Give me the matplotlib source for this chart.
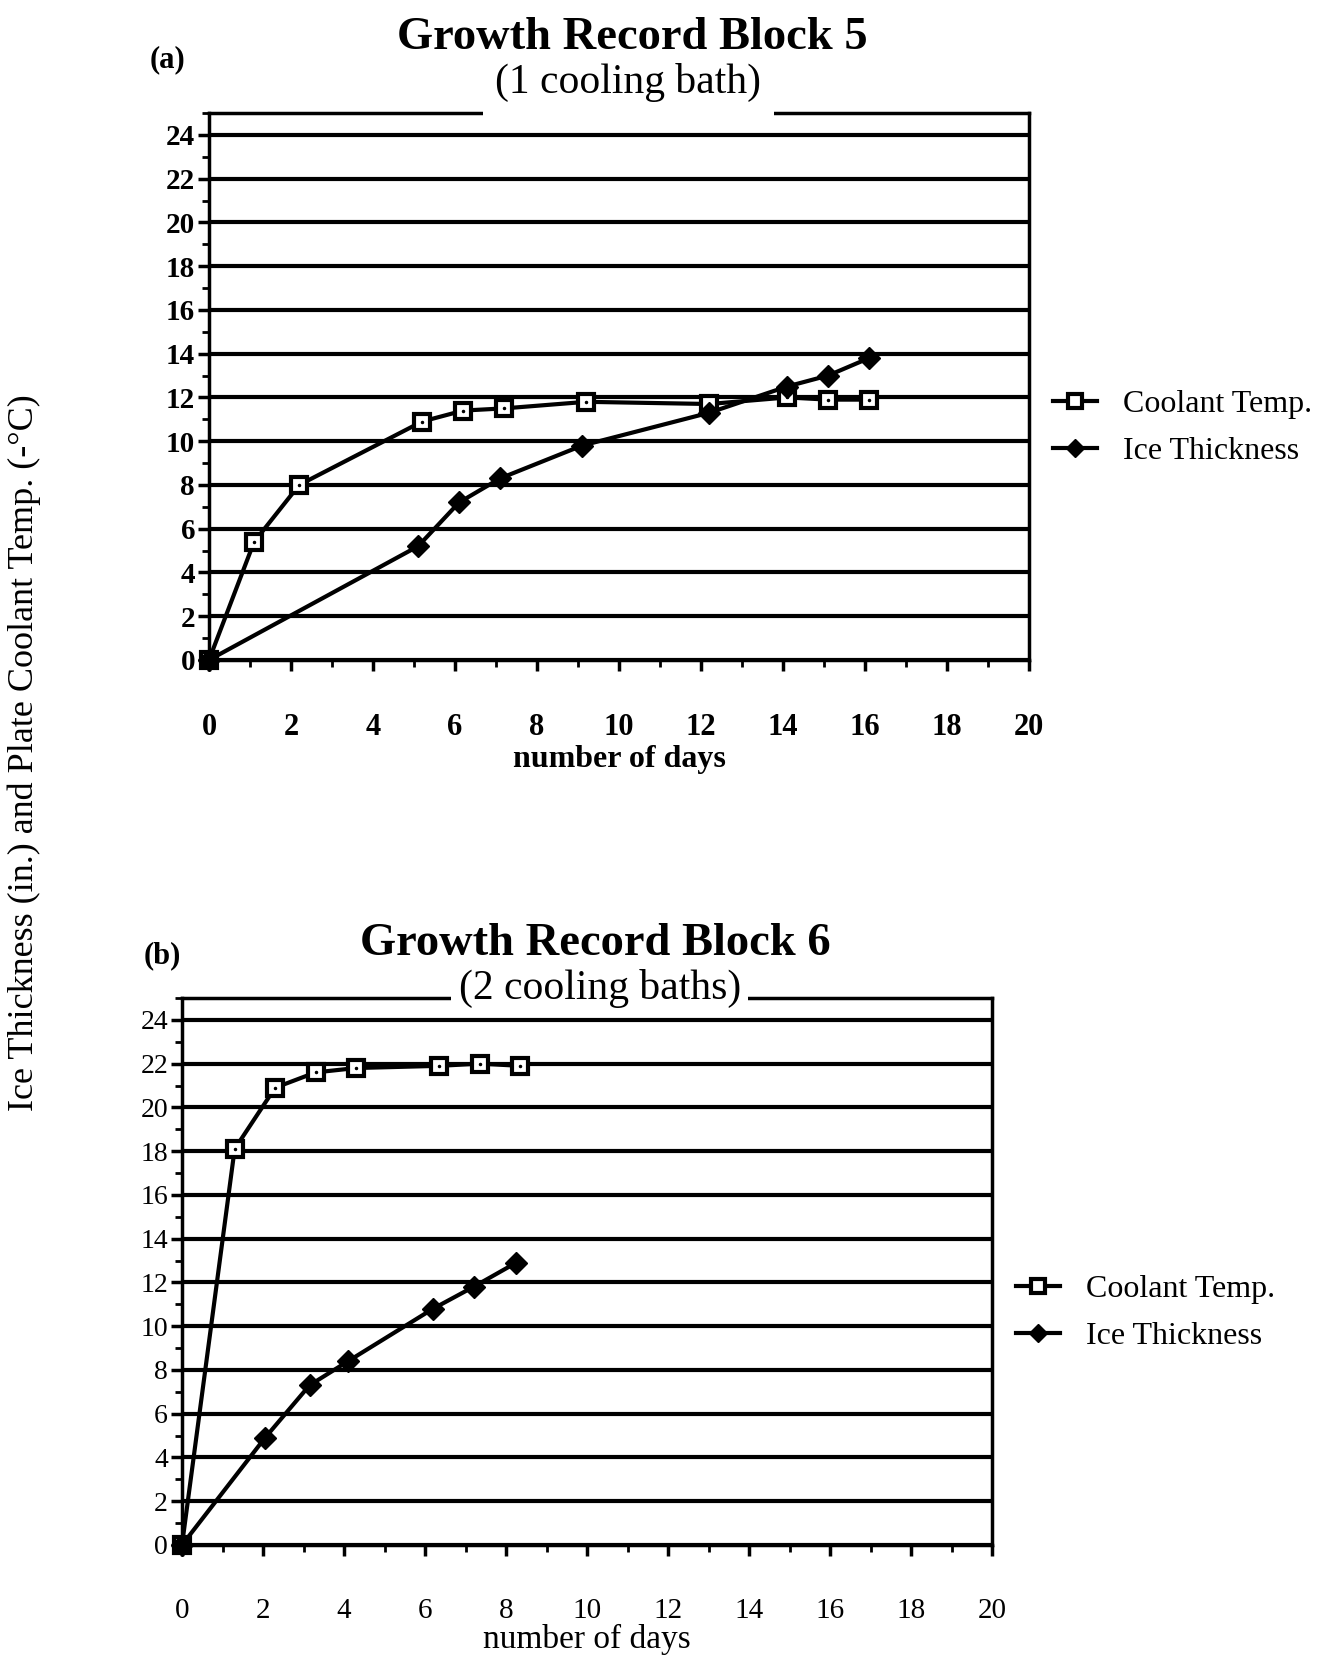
import numpy as np
import matplotlib.pyplot as plt
from matplotlib.patches import Rectangle

W, H = 1332, 1663

# (a) Block 5, one cooling bath
days_a_cool = [0, 1.1, 2.2, 5.2, 6.2, 7.2, 9.2, 12.2, 14.1, 15.1, 16.1]
temp_a = [0, 5.4, 8.0, 10.9, 11.4, 11.5, 11.8, 11.7, 12.0, 11.9, 11.9]
days_a_ice = [0, 5.1, 6.1, 7.1, 9.1, 12.2, 14.1, 15.1, 16.1]
ice_a = [0, 5.2, 7.2, 8.3, 9.8, 11.3, 12.5, 13.0, 13.8]

# (b) Block 6, two cooling baths
days_b_cool = [0, 1.3, 2.3, 3.3, 4.3, 6.35, 7.35, 8.35]
temp_b = [0, 18.1, 20.9, 21.6, 21.8, 21.9, 22.0, 21.9]
days_b_ice = [0, 2.05, 3.15, 4.1, 6.2, 7.2, 8.25]
ice_b = [0, 4.9, 7.3, 8.4, 10.8, 11.8, 12.9]

y_ticks = np.arange(0, 25, 2)
x_ticks = np.arange(0, 21, 2)

plt.rcParams['font.family'] = ['Liberation Serif', 'DejaVu Serif']


def fx(px):
    return px / W


def fy(py):
    return 1 - py / H


def panel(rect, d_cool, t_cool, d_ice, t_ice, bold_ticks, gap):
    ax = fig.add_axes(rect)
    ax.set_xlim(0, 20)
    ax.set_ylim(0, 25)
    for v in y_ticks:
        ax.axhline(v, color='black', lw=3, zorder=1)
    ax.plot(d_cool, t_cool, '-', color='black', lw=3, marker='s', ms=12,
            mfc='white', mec='black', mew=3, zorder=3, clip_on=False, label='Coolant Temp.')
    ax.plot(d_cool, t_cool, '.', color='black', ms=3, zorder=4, clip_on=False)
    ax.plot(d_ice, t_ice, '-', color='black', lw=3, marker='D', ms=11,
            mfc='black', mec='black', zorder=3, clip_on=False, label='Ice Thickness')
    for s in ax.spines.values():
        s.set_linewidth(2.5)
    # white break in the top frame behind the subtitle
    ax.add_patch(Rectangle((gap[0], 0.985), gap[1] - gap[0], 0.03, transform=ax.transAxes,
                           facecolor='white', edgecolor='none', clip_on=False, zorder=5))
    ax.set_xticks(x_ticks)
    ax.set_xticks(np.arange(0, 21, 1), minor=True)
    ax.set_yticks(y_ticks)
    ax.set_yticks(np.arange(0, 26, 1), minor=True)
    ax.tick_params(which='major', length=8, width=2.5, direction='out')
    ax.tick_params(which='minor', length=5, width=2, direction='out')
    ax.tick_params(axis='x', pad=30)
    ax.tick_params(axis='y', pad=2)
    w = 'bold' if bold_ticks else 'normal'
    fs = 22 if bold_ticks else 21
    ax.set_xticklabels([str(v) for v in x_ticks], fontsize=fs, fontweight=w)
    ax.set_yticklabels([str(v) for v in y_ticks], fontsize=fs - 1, fontweight=w)
    return ax


fig = plt.figure(figsize=(W / 100, H / 100), dpi=100)

ax1 = panel([fx(209), fy(660), fx(1029 - 209), (660 - 113) / H],
            days_a_cool, temp_a, days_a_ice, ice_a, True, (0.334, 0.689))
ax2 = panel([fx(182), fy(1545), fx(992 - 182), (1545 - 998) / H],
            days_b_cool, temp_b, days_b_ice, ice_b, False, (0.332, 0.699))

ax1.set_xlabel('number of days', fontsize=23, fontweight='bold', labelpad=2)
ax2.set_xlabel('number of days', fontsize=24, labelpad=0)

fig.text(fx(632), fy(38), 'Growth Record Block 5', fontsize=33.5, fontweight='bold',
         ha='center', va='center')
fig.text(fx(628), fy(82), '(1 cooling bath)', fontsize=30, ha='center', va='center', zorder=10)
fig.text(fx(168), fy(60), '(a)', fontsize=22, fontweight='bold', ha='center', va='center')

fig.text(fx(595), fy(944), 'Growth Record Block 6', fontsize=33.5, fontweight='bold',
         ha='center', va='center')
fig.text(fx(600), fy(988), '(2 cooling baths)', fontsize=30, ha='center', va='center', zorder=10)
fig.text(fx(162), fy(956), '(b)', fontsize=22, fontweight='bold', ha='center', va='center')

fig.text(fx(24), fy(753), 'Ice Thickness (in.) and Plate Coolant Temp. (-°C)',
         fontsize=26, rotation=90, ha='center', va='center')

ax1.legend(loc='center left', bbox_to_anchor=(fx(1024), fy(428)),
           bbox_transform=fig.transFigure, frameon=False, fontsize=23,
           handlelength=1.4, handletextpad=0.8, labelspacing=0.55, markerscale=0.8)
ax2.legend(loc='center left', bbox_to_anchor=(fx(987), fy(1313)),
           bbox_transform=fig.transFigure, frameon=False, fontsize=23,
           handlelength=1.4, handletextpad=0.8, labelspacing=0.55, markerscale=0.8)

fig.savefig('out.png', dpi=100)
